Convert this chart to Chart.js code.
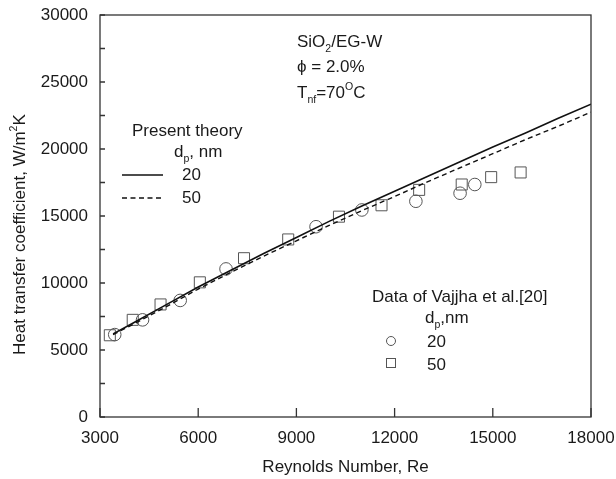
<!DOCTYPE html>
<html>
<head>
<meta charset="utf-8">
<script src="https://cdn.jsdelivr.net/npm/chart.js@4.4.1/dist/chart.umd.min.js"></script>
<style>
  html, body { margin: 0; padding: 0; background: #fff; }
</style>
</head>
<body>
<canvas id="c" width="616" height="479"></canvas>
<script>
'use strict';

// present theory curves
const reTheory = [3400, 4000, 5000, 6000, 7000, 8000, 9000, 10000, 11000, 12000, 13000, 14000, 15000, 16000, 17000, 18000];
const hTheory20 = [6200, 7000, 8350, 9700, 10950, 12200, 13400, 14600, 15750, 16850, 17950, 19050, 20150, 21200, 22300, 23350];
const hTheory50 = [6150, 6900, 8200, 9550, 10800, 12000, 13150, 14300, 15400, 16450, 17550, 18600, 19650, 20700, 21700, 22750];

// Vajjha et al. data
const reData20 = [3450, 4300, 5450, 6850, 9600, 11000, 12650, 14000, 14450];
const hData20 = [6150, 7250, 8700, 11050, 14200, 15450, 16100, 16700, 17350];
const reData50 = [3300, 4000, 4850, 6050, 7400, 8750, 10300, 11600, 12750, 14050, 14950, 15850];
const hData50 = [6100, 7250, 8400, 10050, 11850, 13250, 14950, 15800, 16950, 17350, 17900, 18250];

const xTicks = [3000, 6000, 9000, 12000, 15000, 18000];
const yTicks = [0, 2500, 5000, 7500, 10000, 12500, 15000, 17500, 20000, 22500, 25000, 27500, 30000];

const FONT = "'Liberation Sans', Arial, sans-serif";
const INK = '#1a1a1a';

function pts(xs, ys) {
  return xs.map((x, i) => ({ x, y: ys[i] }));
}

// draws text made of pieces, some raised or lowered
function drawRich(ctx, x, y, parts, size) {
  let cx = x;
  parts.forEach((p) => {
    const s = p.sub || p.sup ? size * 0.62 : size;
    const dy = p.sub ? size * 0.32 : p.sup ? -size * 0.45 : 0;
    ctx.font = `${s}px ${FONT}`;
    ctx.fillText(p.t, cx, y + dy);
    cx += ctx.measureText(p.t).width;
  });
}

const frame = {
  id: 'frame',
  afterDraw(chart) {
    const { ctx, chartArea: a, scales } = chart;
    ctx.save();
    ctx.strokeStyle = '#333';
    ctx.lineWidth = 1.3;
    ctx.strokeRect(a.left, a.top, a.right - a.left, a.bottom - a.top);
    ctx.beginPath();
    scales.y.ticks.forEach((t) => {
      const py = scales.y.getPixelForValue(t.value);
      ctx.moveTo(a.left, py);
      ctx.lineTo(a.left + 5, py);
    });
    scales.x.ticks.forEach((t) => {
      const px = scales.x.getPixelForValue(t.value);
      ctx.moveTo(px, a.bottom);
      ctx.lineTo(px, a.bottom - 9);
    });
    ctx.stroke();

    ctx.fillStyle = INK;
    ctx.textAlign = 'left';
    ctx.textBaseline = 'alphabetic';
    const L = a.left;
    const T = a.top;

    // conditions
    drawRich(ctx, L + 197, T + 32, [{ t: 'SiO' }, { t: '2', sub: true }, { t: '/EG-W' }], 17);
    drawRich(ctx, L + 197, T + 57, [{ t: '\u03D5 = 2.0%' }], 17);
    drawRich(ctx, L + 197, T + 83, [{ t: 'T' }, { t: 'nf', sub: true }, { t: '=70' }, { t: 'O', sup: true }, { t: 'C' }], 17);

    // theory legend
    drawRich(ctx, L + 32, T + 121, [{ t: 'Present theory' }], 17);
    drawRich(ctx, L + 74, T + 142, [{ t: 'd' }, { t: 'p', sub: true }, { t: ', nm' }], 17);
    drawRich(ctx, L + 82, T + 165, [{ t: '20' }], 17);
    drawRich(ctx, L + 82, T + 188, [{ t: '50' }], 17);
    ctx.strokeStyle = '#111';
    ctx.lineWidth = 1.5;
    ctx.beginPath();
    ctx.moveTo(L + 22, T + 160);
    ctx.lineTo(L + 63, T + 160);
    ctx.stroke();
    ctx.setLineDash([5, 3.5]);
    ctx.beginPath();
    ctx.moveTo(L + 22, T + 183);
    ctx.lineTo(L + 63, T + 183);
    ctx.stroke();
    ctx.setLineDash([]);

    // data legend
    drawRich(ctx, L + 272, T + 287, [{ t: 'Data of Vajjha et al.[20]' }], 17);
    drawRich(ctx, L + 325, T + 308, [{ t: 'd' }, { t: 'p', sub: true }, { t: ',nm' }], 17);
    drawRich(ctx, L + 327, T + 332, [{ t: '20' }], 17);
    drawRich(ctx, L + 327, T + 355, [{ t: '50' }], 17);
    ctx.strokeStyle = '#555';
    ctx.lineWidth = 1;
    ctx.beginPath();
    ctx.arc(L + 291, T + 326, 4.5, 0, Math.PI * 2);
    ctx.stroke();
    ctx.strokeRect(L + 286.5, T + 343.5, 9, 9);

    // y title
    ctx.save();
    ctx.translate(25, 355);
    ctx.rotate(-Math.PI / 2);
    drawRich(ctx, 0, 0, [{ t: 'Heat transfer coefficient, W/m' }, { t: '2', sup: true }, { t: 'K' }], 17);
    ctx.restore();
    ctx.restore();
  },
};

new Chart(document.getElementById('c'), {
  type: 'scatter',
  data: {
    datasets: [
      {
        label: '20 nm theory',
        data: pts(reTheory, hTheory20),
        showLine: true,
        borderColor: '#111',
        borderWidth: 1.6,
        pointRadius: 0,
      },
      {
        label: '50 nm theory',
        data: pts(reTheory, hTheory50),
        showLine: true,
        borderColor: '#111',
        borderWidth: 1.4,
        borderDash: [5, 3.5],
        pointRadius: 0,
      },
      {
        label: '20 nm data',
        data: pts(reData20, hData20),
        pointStyle: 'circle',
        pointRadius: 6.3,
        borderColor: '#555',
        borderWidth: 1,
        backgroundColor: 'rgba(0,0,0,0)',
      },
      {
        label: '50 nm data',
        data: pts(reData50, hData50),
        pointStyle: 'rect',
        pointRadius: 7.8,
        borderColor: '#555',
        borderWidth: 1,
        backgroundColor: 'rgba(0,0,0,0)',
      },
    ],
  },
  options: {
    responsive: false,
    animation: false,
    layout: { padding: { top: 15, right: 25, left: 0, bottom: 0 } },
    plugins: { legend: { display: false }, tooltip: { enabled: false } },
    scales: {
      x: {
        type: 'linear',
        min: 3000,
        max: 18000,
        afterBuildTicks: (s) => { s.ticks = xTicks.map((v) => ({ value: v })); },
        afterFit: (s) => { s.height = 62; s.paddingLeft = 0; s.paddingRight = 0; },
        grid: { display: false, drawTicks: false },
        border: { display: false },
        ticks: {
          autoSkip: false,
          maxRotation: 0,
          padding: 11,
          color: INK,
          font: { family: FONT, size: 17 },
          callback: (v) => String(v),
        },
        title: { display: true, text: 'Reynolds Number, Re', color: INK, padding: { top: 0, bottom: 1 }, font: { family: FONT, size: 17 } },
      },
      y: {
        type: 'linear',
        min: 0,
        max: 30000,
        afterBuildTicks: (s) => { s.ticks = yTicks.map((v) => ({ value: v })); },
        afterFit: (s) => { s.width = 100; s.paddingTop = 0; s.paddingBottom = 0; },
        grid: { display: false, drawTicks: false },
        border: { display: false },
        ticks: {
          autoSkip: false,
          padding: 12,
          color: INK,
          font: { family: FONT, size: 17 },
          callback: (v) => (v % 5000 === 0 ? String(v) : ''),
        },
      },
    },
  },
  plugins: [frame],
});
</script>
</body>
</html>
